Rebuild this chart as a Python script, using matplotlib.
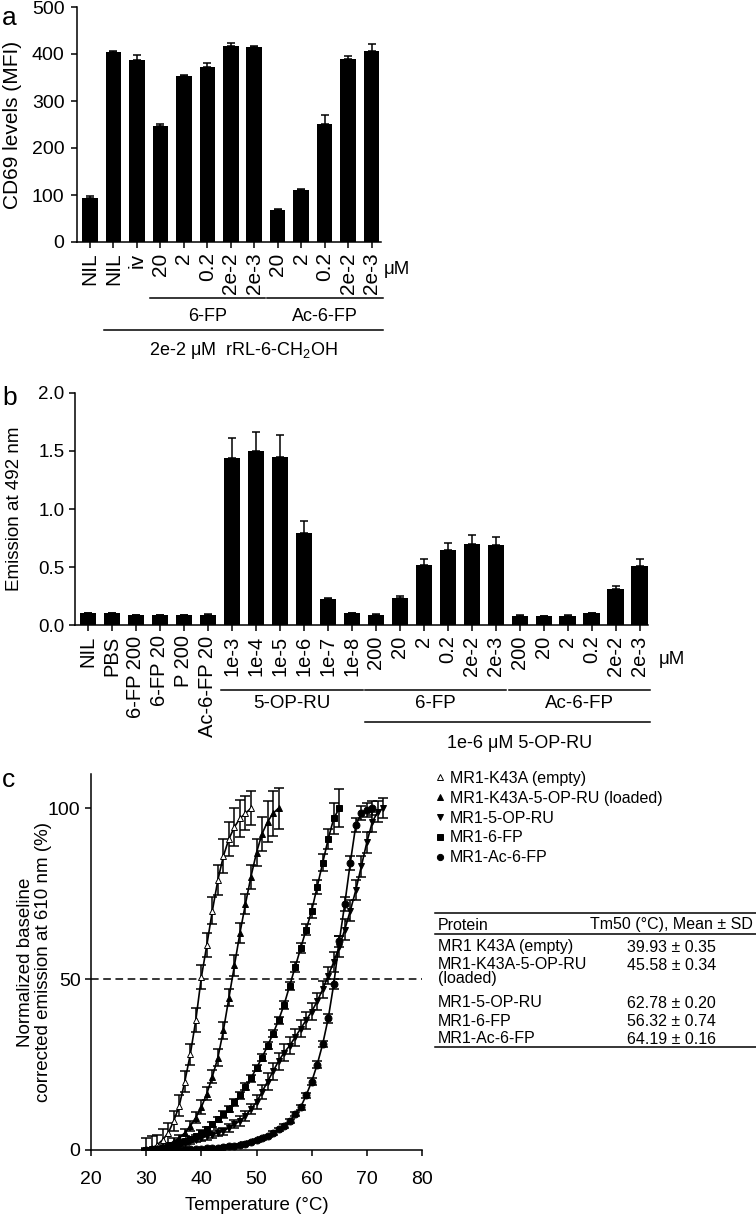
import numpy as np
import matplotlib
matplotlib.use('Agg')
import matplotlib.pyplot as plt
from matplotlib.lines import Line2D
from matplotlib.transforms import blended_transform_factory

plt.rcParams['font.family'] = ['Liberation Sans', 'DejaVu Sans']
plt.rcParams['mathtext.fontset'] = 'custom'
plt.rcParams['mathtext.rm'] = 'Liberation Sans'
plt.rcParams['axes.linewidth'] = 1.1
plt.rcParams['xtick.major.width'] = 1.1
plt.rcParams['ytick.major.width'] = 1.1
plt.rcParams['xtick.major.size'] = 4
plt.rcParams['ytick.major.size'] = 4

#%% data
# panel a
labels_a = ['NIL', 'NIL', 'iv', '20', '2', '0.2', '2e-2', '2e-3', '20', '2', '0.2', '2e-2', '2e-3']
cd69 = [93, 404, 388, 247, 353, 373, 417, 414, 69, 110, 251, 390, 407]
cd69_err = [4, 2, 9, 3, 2, 7, 6, 4, 2, 2, 20, 6, 14]

# panel b
labels_b = ['NIL', 'PBS', '6-FP 200', '6-FP 20', 'P 200', 'Ac-6-FP 20',
            '1e-3', '1e-4', '1e-5', '1e-6', '1e-7', '1e-8',
            '200', '20', '2', '0.2', '2e-2', '2e-3',
            '200', '20', '2', '0.2', '2e-2', '2e-3']
emission = [0.10, 0.10, 0.085, 0.085, 0.085, 0.09,
            1.44, 1.50, 1.45, 0.79, 0.22, 0.10,
            0.09, 0.23, 0.52, 0.65, 0.70, 0.69,
            0.08, 0.075, 0.08, 0.10, 0.31, 0.51]
emission_err = [0.005, 0.005, 0.004, 0.004, 0.004, 0.004,
                0.17, 0.16, 0.19, 0.11, 0.01, 0.005,
                0.005, 0.02, 0.05, 0.06, 0.08, 0.07,
                0.004, 0.004, 0.004, 0.005, 0.03, 0.06]

# panel c (thermal shift, one point per degree)
t_k43a = list(range(30, 50))
y_k43a = [0, 0.5, 1.5, 3, 5, 8.5, 13, 20, 28, 38,
          50.5, 60, 70, 79, 86, 91, 94.5, 97, 98.5, 100]
e_k43a = [3.5, 3.5, 3, 3, 3, 3, 3, 3, 3, 3.5,
          3.5, 3.5, 4, 4.5, 5, 5, 5.5, 5.5, 5, 5]

t_k43a_5op = list(range(30, 55))
y_k43a_5op = [0, 0.2, 0.5, 1, 1.5, 2.5, 3.5, 5, 7, 9.5,
              12.5, 16.5, 21.5, 27, 35, 44.5, 54, 63.5, 72, 80,
              87, 92.5, 96, 98.5, 100]
e_k43a_5op = [0.5, 0.5, 0.5, 0.5, 0.5, 1, 1, 1, 1.5, 1.5,
              2, 2, 2, 2.5, 2.5, 2.5, 3, 3, 3, 3.5,
              4, 5, 6, 6.5, 6]

t_5op = list(range(30, 74))
y_5op = [0, 0, 0.2, 0.4, 0.7, 1, 1.5, 2, 2.5, 3,
         3.5, 4, 4.5, 5, 5.5, 6.5, 7.5, 8.5, 10, 12,
         14, 17, 20, 23, 26, 28.5, 30.5, 33, 35.5, 38,
         40.5, 43.5, 47, 51, 55, 59.5, 64.5, 70, 76, 83,
         90, 96, 99, 100]
e_5op = [0.3, 0.3, 0.3, 0.3, 0.3, 0.5, 0.5, 0.5, 0.8, 0.8,
         0.8, 1, 1, 1, 1, 1.2, 1.2, 1.5, 1.5, 1.5,
         2, 2, 2.5, 2.5, 2.5, 2.5, 2.5, 2.5, 2.5, 2.5,
         2.5, 2.5, 2.5, 2.5, 3, 3, 3, 3, 3, 3,
         3, 3, 3, 3]

t_6fp = list(range(30, 66))
y_6fp = [0, 0.2, 0.4, 0.7, 1, 1.5, 2, 2.5, 3.2, 4,
         5, 6, 7.5, 9, 10.5, 12, 14, 16, 18.5, 21,
         24, 27, 30.5, 34, 38, 42.5, 48, 53.5, 59, 64.5,
         70, 77, 84, 91, 97, 100]
e_6fp = [0.3, 0.3, 0.3, 0.3, 0.3, 0.5, 0.5, 0.5, 0.5, 0.5,
         0.8, 0.8, 0.8, 0.8, 1, 1, 1, 1, 1, 1,
         1, 1, 1, 1, 1, 1.2, 1.2, 1.5, 1.5, 1.5,
         2, 2, 2.5, 3, 4.5, 5.5]

t_ac6fp = list(range(30, 72))
y_ac6fp = [0, 0, 0, 0, 0, 0, 0.1, 0.2, 0.2, 0.3,
           0.4, 0.5, 0.6, 0.7, 0.9, 1.1, 1.3, 1.6, 1.9, 2.3,
           2.8, 3.4, 4.1, 5, 6, 7, 8.5, 10.5, 12.5, 16,
           20, 25, 31, 38.5, 48.5, 61, 72, 84, 95, 98.5,
           99.5, 100]
e_ac6fp = [0.2, 0.2, 0.2, 0.2, 0.2, 0.2, 0.2, 0.2, 0.2, 0.2,
           0.2, 0.2, 0.2, 0.2, 0.3, 0.3, 0.3, 0.3, 0.3, 0.3,
           0.4, 0.4, 0.4, 0.5, 0.5, 0.5, 0.6, 0.6, 0.8, 0.8,
           1, 1, 1, 1.2, 1.5, 1.5, 2, 2, 2, 2,
           2, 2]

proteins = ['MR1 K43A (empty)', 'MR1-K43A-5-OP-RU\n(loaded)', 'MR1-5-OP-RU', 'MR1-6-FP', 'MR1-Ac-6-FP']
tm50 = [39.93, 45.58, 62.78, 56.32, 64.19]
tm50_sd = [0.35, 0.34, 0.20, 0.74, 0.16]

#%% layout helpers
W, H = 756, 1215
fig = plt.figure(figsize=(W/100, H/100), dpi=100)


def box(l, t, r, b):
    return [l/W, 1 - b/H, (r - l)/W, (b - t)/H]


def bracket(ax, x0, x1, y, text, ty, fs=13, family=None, dx=0):
    tr = blended_transform_factory(ax.transData, ax.transAxes)
    ax.plot([x0, x1], [y, y], transform=tr, color='k', lw=1.1, clip_on=False)
    ax.text((x0 + x1)/2 + dx, ty, text, transform=tr, ha='center', va='center',
            fontsize=fs, family=family)


def clean(ax):
    ax.spines['top'].set_visible(False)
    ax.spines['right'].set_visible(False)
    ax.tick_params(direction='out')


#%% panel a
ax = fig.add_axes(box(77, 7, 381, 242))
xa = np.arange(len(cd69))
ax.bar(xa, cd69, width=0.66, color='k')
ax.errorbar(xa, cd69, yerr=[np.zeros(len(cd69)), cd69_err], fmt='none',
            ecolor='k', elinewidth=1.1, capsize=3, capthick=1.1)
ax.set_xlim(-0.55, 12.4)
ax.set_ylim(0, 500)
ax.set_yticks([0, 100, 200, 300, 400, 500])
ax.set_xticks(xa)
ax.set_xticklabels(labels_a, rotation=90, fontsize=15)
ax.tick_params(axis='y', labelsize=14, pad=5)
ax.set_ylabel('CD69 levels (MFI)', fontsize=15)
ax.yaxis.set_label_coords(-0.18, 0.5)
clean(ax)
bracket(ax, 2.55, 7.45, -0.238, '6-FP', -0.319)
bracket(ax, 7.55, 12.5, -0.238, 'Ac-6-FP', -0.319)
bracket(ax, 0.6, 12.5, -0.374, r'2e-2 μM  rRL-6-CH$_2$OH', -0.46)
fig.text(397/W, 1 - 270/H, 'μM', fontsize=13.5, ha='center', va='center')

#%% panel b
ax = fig.add_axes(box(75, 393, 648, 625))
xb = np.arange(len(emission))
ax.bar(xb, emission, width=0.68, color='k')
ax.errorbar(xb, emission, yerr=[np.zeros(len(emission)), emission_err], fmt='none',
            ecolor='k', elinewidth=1.1, capsize=3, capthick=1.1)
ax.set_xlim(-0.54, 23.35)
ax.set_ylim(0, 2.0)
ax.set_yticks([0, 0.5, 1.0, 1.5, 2.0])
ax.set_yticklabels(['0.0', '0.5', '1.0', '1.5', '2.0'], fontsize=13.5)
ax.set_xticks(xb)
ax.set_xticklabels(labels_b, rotation=90, fontsize=14.5)
ax.set_ylabel('Emission at 492 nm', fontsize=13.5)
ax.yaxis.set_label_coords(-0.09, 0.5)
clean(ax)
bracket(ax, 5.55, 11.45, -0.28, '5-OP-RU', -0.34, 13.5)
bracket(ax, 11.55, 17.45, -0.28, '6-FP', -0.34, 13.5)
bracket(ax, 17.55, 23.45, -0.28, 'Ac-6-FP', -0.34, 13.5)
bracket(ax, 11.55, 23.45, -0.418, '1e-6 μM 5-OP-RU', -0.509, 13, dx=0.5)
fig.text(672/W, 1 - 660/H, 'μM', fontsize=13.5, ha='center', va='center')

#%% panel c
ax = fig.add_axes(box(91, 774, 422, 1150))
series = [(t_k43a, y_k43a, e_k43a, '^', 'white'),
          (t_k43a_5op, y_k43a_5op, e_k43a_5op, '^', 'k'),
          (t_5op, y_5op, e_5op, 'v', 'k'),
          (t_6fp, y_6fp, e_6fp, 's', 'k'),
          (t_ac6fp, y_ac6fp, e_ac6fp, 'o', 'k')]
for t, y, e, m, fc in series:
    ax.errorbar(t, y, yerr=e, fmt='none', ecolor='k', elinewidth=1.1,
                capsize=3.5, capthick=1.1, zorder=2)
    ax.plot(t, y, '-', color='k', lw=1.2, zorder=3)
    ax.plot(t, y, ls='none', marker=m, ms=5, mfc=fc, mec='k', mew=0.7, zorder=4)
ax.axhline(50, color='k', lw=1.1, ls=(0, (5, 3)), zorder=1)
ax.set_xlim(20, 80)
ax.set_ylim(0, 110)
ax.set_xticks([20, 30, 40, 50, 60, 70, 80])
ax.set_yticks([0, 50, 100])
ax.tick_params(labelsize=14)
ax.tick_params(axis='x', pad=11)
ax.set_xlabel('Temperature (°C)', fontsize=13.5)
ax.xaxis.set_label_coords(0.5, -0.125)
ax.set_ylabel('Normalized baseline\ncorrected emission at 610 nm (%)', fontsize=13.5,
              linespacing=1.05)
ax.yaxis.set_label_coords(-0.118, 0.5)
clean(ax)

handles = [Line2D([], [], ls='none', marker=m, ms=4.5, mfc=fc, mec='k', mew=0.7)
           for _, _, _, m, fc in series]
leg_labels = ['MR1-K43A (empty)', 'MR1-K43A-5-OP-RU (loaded)', 'MR1-5-OP-RU',
              'MR1-6-FP', 'MR1-Ac-6-FP']
fig.legend(handles, leg_labels, loc='upper left', bbox_to_anchor=(436/W, 1 - 771/H),
           frameon=False, fontsize=11.5, handlelength=0.5, handletextpad=0.35,
           labelspacing=0.3, borderpad=0, borderaxespad=0)

# Tm50 table
x0, x1 = 435/W, 1.0
for yl in [913, 934, 1047]:
    fig.add_artist(Line2D([x0, x1], [1 - yl/H, 1 - yl/H], color='k', lw=1.1))
fig.text(438/W, 1 - 925/H, 'Protein', fontsize=11.5, va='center')
fig.text(590/W, 1 - 925/H, 'Tm50 (°C), Mean ± SD', fontsize=11.5, va='center')
row_y = [947, 965, 1003, 1022, 1039]
for name, m, s, ry in zip(proteins, tm50, tm50_sd, row_y):
    fig.text(438/W, 1 - (ry - 8)/H, name, fontsize=11.5, va='top', linespacing=0.95)
    fig.text(627/W, 1 - ry/H, '%.2f ± %.2f' % (m, s), fontsize=11.5, va='center')

# panel letters
fig.text(2/W, 1 - 18/H, 'a', fontsize=19, va='center')
fig.text(2/W, 1 - 398/H, 'b', fontsize=19, va='center')
fig.text(2/W, 1 - 780/H, 'c', fontsize=19, va='center')

fig.savefig('out.png', dpi=100)
